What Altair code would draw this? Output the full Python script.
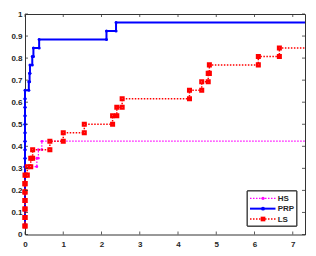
import altair as alt
import pandas as pd

N_PROBLEMS = 26
SOLVERS = ["HS", "PRP", "LS"]
COLORS = ["#FF00FF", "#0000FF", "#FF0000"]
HS_TAU = [0] * 8 + [0.31, 0.35, 0.44]
PRP_TAU = [0] * 17 + [0.10, 0.12, 0.13, 0.19, 0.22, 0.37, 2.13, 2.38]
LS_TAU = [0] * 7 + [0.06, 0.15, 0.20, 0.65, 1.00, 1.55, 2.29, 2.40, 2.54,
                    4.30, 4.62, 4.79, 4.82, 6.10, 6.65]
X_TICKS = [0, 1, 2, 3, 4, 5, 6, 7]
Y_TICKS = [0, 0.1, 0.2, 0.3, 0.4, 0.5, 0.6, 0.7, 0.8, 0.9, 1.0]
XMAX = 7.32

W, H = 280, 220.5
FONT = "Liberation Sans"
AXC = "#333333"

rows = []
for s, taus in zip(SOLVERS, [HS_TAU, PRP_TAU, LS_TAU]):
    taus = sorted(taus)
    k = 0
    for i, t in enumerate(taus):
        if i > 0:
            rows.append(dict(solver=s, x=t, y=i / N_PROBLEMS, order=k, marker=True)); k += 1
        rows.append(dict(solver=s, x=t, y=(i + 1) / N_PROBLEMS, order=k, marker=True)); k += 1
    rows.append(dict(solver=s, x=XMAX, y=len(taus) / N_PROBLEMS, order=k, marker=False))
df = pd.DataFrame(rows)

X = alt.X("x:Q", scale=alt.Scale(domain=[0, XMAX], nice=False, zero=False),
          axis=alt.Axis(values=X_TICKS, title=None, labelPadding=6, labelFlush=False))
Y = alt.Y("y:Q", scale=alt.Scale(domain=[0, 1], nice=False),
          axis=alt.Axis(values=Y_TICKS, title=None, format="~g", labelPadding=3))

base = alt.Chart(df)
styles = {
    "HS": dict(line=dict(strokeWidth=1.2, strokeDash=[1.5, 1.5]),
               pt=dict(shape="circle", filled=True, size=7)),
    "PRP": dict(line=dict(strokeWidth=2),
                pt=dict(shape="circle", filled=True, size=9)),
    "LS": dict(line=dict(strokeWidth=1.5, strokeDash=[1.5, 1.5]),
               pt=dict(shape="square", filled=False, size=8, strokeWidth=2.2)),
}

layers = []
for s, c in zip(SOLVERS, COLORS):
    layers.append(base.transform_filter(alt.datum.solver == s)
                  .mark_line(color=c, **styles[s]["line"])
                  .encode(x=X, y=Y, order="order:Q"))
    layers.append(base.transform_filter((alt.datum.solver == s) & alt.datum.marker)
                  .mark_point(color=c, opacity=1, **styles[s]["pt"])
                  .encode(x=X, y=Y))

# inward ticks (box style)
TL = 3
xt = alt.Chart(pd.DataFrame({"x": X_TICKS}))
yt = alt.Chart(pd.DataFrame({"y": Y_TICKS}))
layers.append(xt.mark_rule(color=AXC, strokeWidth=0.8).encode(x=X, y=alt.value(H), y2=alt.value(H - TL)))
layers.append(xt.mark_rule(color=AXC, strokeWidth=0.8).encode(x=X, y=alt.value(0), y2=alt.value(TL)))
layers.append(yt.mark_rule(color=AXC, strokeWidth=0.8).encode(y=Y, x=alt.value(0), x2=alt.value(TL)))
layers.append(yt.mark_rule(color=AXC, strokeWidth=0.8).encode(y=Y, x=alt.value(W), x2=alt.value(W - TL)))

# legend box
LX0, LX1, LY0, LY1 = 222.3, 271.7, 177, 212
ROW0, DY = 184.3, 10.35
leg = alt.Chart(pd.DataFrame({"label": SOLVERS}))
layers.append(leg.mark_rect(fill="white", stroke=AXC, strokeWidth=1)
              .encode(x=alt.value(LX0), x2=alt.value(LX1), y=alt.value(LY0), y2=alt.value(LY1)))
for i, (s, c) in enumerate(zip(SOLVERS, COLORS)):
    yy = ROW0 + i * DY
    one = alt.Chart(pd.DataFrame({"label": [s]}))
    layers.append(one.mark_rule(color=c, **styles[s]["line"])
                  .encode(x=alt.value(225), x2=alt.value(250.5), y=alt.value(yy)))
    pt = dict(styles[s]["pt"])
    if s == "LS":
        pt = dict(shape="square", filled=True, size=22)
    else:
        pt["size"] = pt["size"] * 1.6
    layers.append(one.mark_point(color=c, opacity=1, **pt)
                  .encode(x=alt.value(238), y=alt.value(yy)))
    layers.append(one.mark_text(align="left", baseline="middle", font=FONT, fontSize=8,
                                fontWeight="bold", color="#262626")
                  .encode(x=alt.value(252.7), y=alt.value(yy + 0.5), text="label:N"))

chart = (alt.layer(*layers)
         .properties(width=W, height=H, autosize="none",
                     padding={"left": 17, "top": 6, "right": 3, "bottom": 14})
         .configure_view(stroke=AXC, strokeWidth=1)
         .configure_axis(domain=False, ticks=False, tickSize=0, grid=False,
                         labelFont=FONT, labelFontSize=8, labelFontWeight="bold",
                         labelColor="#262626"))

chart.save("out.html", embed_options={"renderer": "svg", "actions": False})
